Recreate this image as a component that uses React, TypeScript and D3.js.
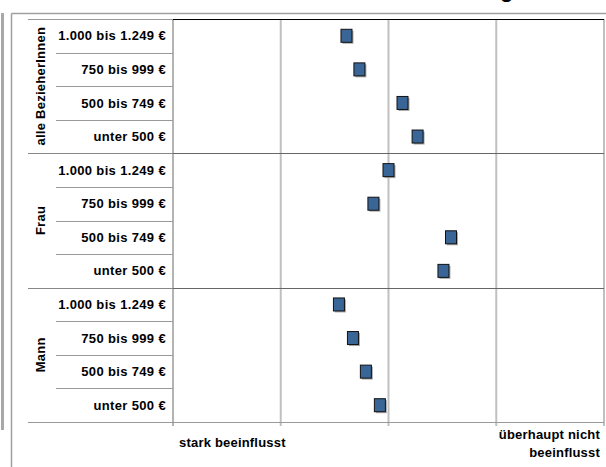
import React from "react";
import * as d3 from "d3";

const groups = ["alle BezieherInnen", "Frau", "Mann"];
const incomeBands = ["1.000 bis 1.249 €", "750 bis 999 €", "500 bis 749 €", "unter 500 €"];
const valuesAlle = [2.61, 2.73, 3.13, 3.27];
const valuesFrau = [3.0, 2.86, 3.58, 3.51];
const valuesMann = [2.54, 2.67, 2.79, 2.92];
const seriesValues = [valuesAlle, valuesFrau, valuesMann];
const xTicks = [1, 2, 3, 4, 5];
const axisLabelLeft = "stark beeinflusst";
const axisLabelRight = ["überhaupt nicht", "beeinflusst"];

const W = 606;
const H = 467;
const plotLeft = 173;
const plotRight = 604;
const plotTop = 19;
const plotBottom = 422;
const labelColLeft = 28;
const subLabelLeft = 56;

export default function App() {
  const rows = groups.flatMap((g, gi) =>
    incomeBands.map((b, bi) => ({ key: `${g}|${b}`, group: g, band: b, value: seriesValues[gi][bi] }))
  );
  const x = d3.scaleLinear().domain([1, 5]).range([plotLeft, plotRight]);
  const y = d3.scaleBand<string>().domain(rows.map((r) => r.key)).range([plotTop, plotBottom]);
  const bw = y.bandwidth();
  const font = "'Liberation Sans', Arial, sans-serif";
  const mw = 11;
  const mh = 13;

  return (
    <svg width={W} height={H} style={{ position: "absolute", left: 0, top: 0 }} fontFamily={font}>
      <rect x={0} y={0} width={W} height={H} fill="#fff" />
      {/* cut-off title */}
      <text x={500} y={-3} fontSize={22} fontWeight="bold" fill="#000">g</text>
      {/* outer frames */}
      <rect x={1} y={13} width={3} height={417} fill="#a8a8a8" />
      <line x1={11.5} y1={13.5} x2={W} y2={13.5} stroke="#a0a0a0" strokeWidth={1.5} />
      <line x1={11.5} y1={13.5} x2={11.5} y2={H} stroke="#a0a0a0" strokeWidth={1.5} />

      {/* vertical gridlines */}
      {xTicks.map((t) => (
        <line key={t} x1={x(t)} x2={x(t)} y1={plotTop} y2={plotBottom + 4}
          stroke={t === 1 ? "#808080" : "#c0c0c0"} strokeWidth={t === 1 ? 1.2 : 2} />
      ))}

      {/* top lines */}
      <line x1={labelColLeft} x2={plotLeft} y1={plotTop + 0.5} y2={plotTop + 0.5} stroke="#999" />
      <line x1={plotLeft} x2={plotRight} y1={plotTop + 0.5} y2={plotTop + 0.5} stroke="#000" />

      {/* row separators */}
      {rows.map((r, i) => {
        if (i === 0) return null;
        const yy = Math.round(y(r.key)!) + 0.5;
        const isGroup = i % incomeBands.length === 0;
        return isGroup ? (
          <g key={r.key}>
            <line x1={labelColLeft} x2={plotLeft} y1={yy} y2={yy} stroke="#888" />
            <line x1={plotLeft} x2={plotRight} y1={yy} y2={yy} stroke="#666" />
          </g>
        ) : (
          <line key={r.key} x1={subLabelLeft} x2={plotLeft} y1={yy} y2={yy} stroke="#999" />
        );
      })}
      {/* bottom line */}
      <line x1={labelColLeft} x2={plotRight} y1={plotBottom + 0.5} y2={plotBottom + 0.5} stroke="#999" />

      {/* row labels */}
      {rows.map((r) => (
        <text key={r.key} x={166} y={y(r.key)! + bw / 2} dy="0.35em" textAnchor="end"
          fontSize={13} letterSpacing={0.35} fontWeight="bold" fill="#000">{r.band}</text>
      ))}
      {/* group labels */}
      {groups.map((g, gi) => {
        const first = y(`${g}|${incomeBands[0]}`)!;
        const cy = first + (bw * incomeBands.length) / 2;
        return (
          <text key={g} transform={`translate(${40},${cy}) rotate(-90)`} textAnchor="middle" dy="0.35em"
            fontSize={13} letterSpacing={0.25} fontWeight="bold" fill="#000">{g}</text>
        );
      })}

      {/* markers */}
      {rows.map((r) => {
        const cx = x(r.value);
        const cy = y(r.key)! + bw / 2;
        return (
          <g key={r.key}>
            <rect x={cx - mw / 2 + 1.5} y={cy - mh / 2 + 1.5} width={mw} height={mh} fill="#aaa" />
            <rect x={cx - mw / 2} y={cy - mh / 2} width={mw} height={mh} fill="#3a6597" stroke="#111" strokeWidth={1} />
          </g>
        );
      })}

      {/* axis labels */}
      <text x={179} y={447} fontSize={13} letterSpacing={0.2} fontWeight="bold" fill="#000">{axisLabelLeft}</text>
      <text x={600} y={439} fontSize={13} letterSpacing={0.2} fontWeight="bold" fill="#000" textAnchor="end">{axisLabelRight[0]}</text>
      <text x={600} y={457} fontSize={13} letterSpacing={0.2} fontWeight="bold" fill="#000" textAnchor="end">{axisLabelRight[1]}</text>
    </svg>
  );
}
